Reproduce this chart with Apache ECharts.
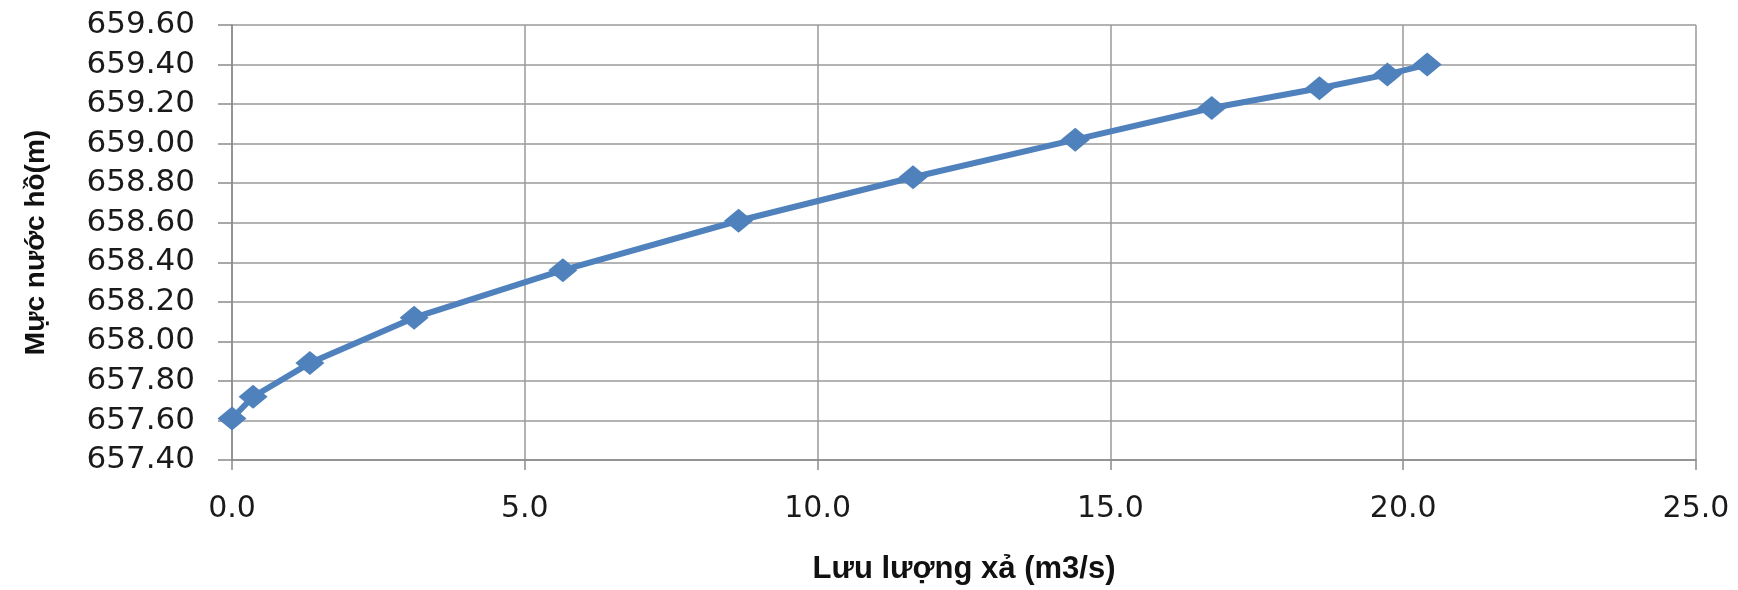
<!DOCTYPE html>
<html>
<head>
<meta charset="utf-8">
<script src="https://cdn.jsdelivr.net/npm/echarts@6/dist/echarts.min.js"></script>
<style>html,body{margin:0;padding:0;background:#fff;}#c{width:1738px;height:590px;}</style>
</head>
<body>
<div id="c"></div>
<script>
// Discharge (m3/s)
const discharge = [0.0, 0.36, 1.33, 3.11, 5.65, 8.65, 11.63, 14.40, 16.73, 18.57, 19.73, 20.41];
// Reservoir water level (m)
const waterLevel = [657.61, 657.72, 657.89, 658.12, 658.36, 658.61, 658.83, 659.02, 659.18, 659.28, 659.35, 659.40];
const xAxisTitle = 'Lưu lượng xả (m3/s)';
const yAxisTitle = 'Mực nước hồ(m)';

const points = discharge.map((x, i) => [x, waterLevel[i]]);
const chart = echarts.init(document.getElementById('c'), null, {renderer: 'canvas'});
chart.setOption({
  animation: false,
  backgroundColor: '#ffffff',
  grid: {left: 232, right: 42, top: 25, bottom: 125, containLabel: false},
  xAxis: {
    type: 'value', min: 0, max: 25, interval: 5,
    name: xAxisTitle, nameLocation: 'middle', nameGap: 94, nameMoveOverlap: false,
    nameTextStyle: {fontFamily: 'Liberation Sans', fontWeight: 'bold', fontSize: 31, color: '#111', verticalAlign: 'top'},
    axisLine: {show: true, lineStyle: {color: '#8a8a8a', width: 1.5}},
    axisTick: {show: true, length: 10, lineStyle: {color: '#8a8a8a', width: 1.5}},
    axisLabel: {margin: 34, fontFamily: 'DejaVu Sans', fontSize: 30, color: '#1a1a1a', formatter: v => v.toFixed(1)},
    splitLine: {show: true, lineStyle: {color: '#9a9a9a', width: 1.5}}
  },
  yAxis: {
    type: 'value', min: 657.4, max: 659.6, interval: 0.2,
    name: yAxisTitle, nameLocation: 'middle', nameGap: 182, nameMoveOverlap: false,
    nameTextStyle: {fontFamily: 'Liberation Sans', fontWeight: 'bold', fontSize: 28, color: '#111'},
    axisLine: {show: true, lineStyle: {color: '#8a8a8a', width: 1.5}},
    axisTick: {show: true, length: 14, lineStyle: {color: '#8a8a8a', width: 1.5}},
    axisLabel: {margin: 37, fontFamily: 'DejaVu Sans', fontSize: 31, color: '#1a1a1a', formatter: v => v.toFixed(2)},
    splitLine: {show: true, lineStyle: {color: '#9a9a9a', width: 1.5}}
  },
  series: [{
    type: 'line',
    data: points,
    smooth: false,
    symbol: 'diamond',
    symbolSize: [29, 24],
    showAllSymbol: true,
    lineStyle: {color: '#4F81BD', width: 6},
    itemStyle: {color: '#4F81BD', borderWidth: 0},
    clip: false
  }]
});
</script>
</body>
</html>
